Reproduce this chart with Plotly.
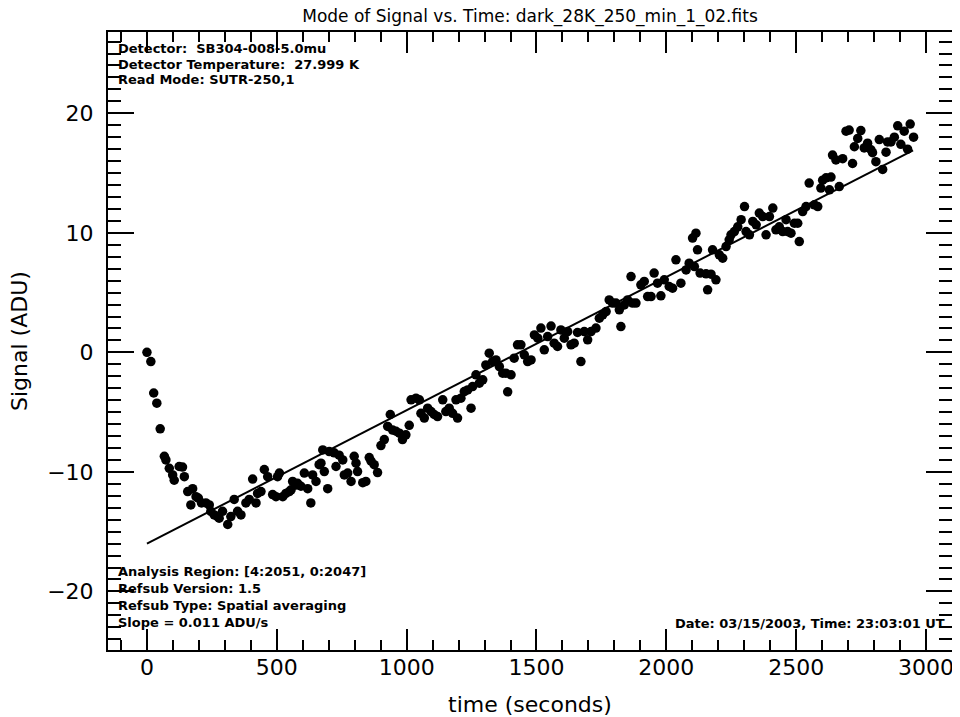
import plotly.graph_objects as go

# ---- data ----
time_s = [0, 15, 26, 38, 51, 67, 73, 86, 99, 105, 124, 137, 144, 157, 169, 176, 189, 198, 210,
          227, 240, 246, 259, 272, 278, 291, 311, 323, 336, 349, 362, 381, 394, 407, 420, 426,
          439, 452, 465, 484, 497, 503, 510, 523, 535, 548, 555, 561, 574, 580, 593, 606, 619,
          631, 638, 651, 663, 670, 677, 683, 696, 702, 721, 728, 740, 754, 760, 773, 786, 798,
          805, 811, 831, 843, 856, 863, 875, 888, 901, 914, 927, 937, 946, 959, 972, 984, 997,
          1010, 1017, 1036, 1049, 1055, 1068, 1081, 1094, 1106, 1119, 1139, 1151, 1164, 1177,
          1190, 1196, 1209, 1222, 1235, 1248, 1254, 1267, 1280, 1293, 1305, 1318, 1331, 1344,
          1357, 1370, 1382, 1389, 1402, 1414, 1427, 1440, 1453, 1466, 1479, 1492, 1505, 1517,
          1530, 1543, 1556, 1568, 1581, 1594, 1607, 1620, 1633, 1645, 1658, 1671, 1684, 1697,
          1710, 1729, 1742, 1755, 1768, 1780, 1793, 1806, 1819, 1825, 1838, 1851, 1864, 1870,
          1883, 1902, 1915, 1928, 1941, 1953, 1966, 1979, 1992, 2011, 2024, 2037, 2056, 2076,
          2088, 2101, 2108, 2114, 2120, 2130, 2153, 2159, 2172, 2178, 2191, 2204, 2217, 2230,
          2242, 2249, 2262, 2275, 2288, 2301, 2307, 2320, 2333, 2346, 2358, 2371, 2384, 2397,
          2410, 2422, 2435, 2448, 2461, 2467, 2480, 2493, 2506, 2512, 2525, 2538, 2550, 2570,
          2583, 2595, 2602, 2615, 2628, 2634, 2640, 2653, 2666, 2679, 2692, 2704, 2717, 2724,
          2737, 2749, 2762, 2775, 2788, 2794, 2807, 2820, 2833, 2846, 2852, 2865, 2878, 2891,
          2903, 2916, 2929, 2939, 2952]
signal_adu = [0.0, -0.77, -3.4, -4.25, -6.4, -8.7, -9.0, -9.7, -10.25, -10.7, -9.55, -9.6, -10.4,
              -11.65, -12.76, -11.4, -12.07, -12.2, -12.6, -12.6, -12.76, -13.3, -13.6, -13.74,
              -13.87, -13.3, -14.4, -13.74, -12.3, -13.3, -13.6, -12.6, -12.3, -10.6, -12.6,
              -11.8, -11.65, -9.8, -10.4, -11.9, -12.07, -10.4, -10.1, -12.07, -11.8, -11.65,
              -11.5, -10.8, -11.1, -10.95, -11.2, -10.1, -11.4, -12.6, -10.25, -10.8, -9.4, -9.27,
              -8.16, -9.97, -11.4, -8.3, -8.4, -9.55, -8.6, -9.0, -10.25, -10.1, -10.8, -8.7,
              -9.27, -9.97, -10.9, -10.8, -8.8, -9.1, -9.4, -10.06, -7.8, -7.3, -6.2, -5.2, -6.5,
              -6.6, -6.76, -7.3, -6.9, -6.1, -3.97, -3.83, -3.97, -5.1, -5.5, -4.67, -4.95, -5.2,
              -5.37, -3.97, -4.95, -4.67, -5.1, -3.97, -5.5, -3.83, -3.28, -3.14, -4.67, -2.86,
              -1.88, -2.58, -2.3, -1.05, -0.07, -0.77, -0.63, -1.19, -1.74, -1.74, -3.3, -1.88,
              -0.49, 0.63, 0.63, -0.21, -0.77, -0.63, 1.46, 1.19, 2.03, 0.21, 1.32, 2.2, 0.77,
              0.49, 1.88, 1.19, 1.74, 0.63, 0.77, 1.66, -0.77, 1.74, 1.05, 1.74, 2.03, 2.86, 3.14,
              3.41, 4.39, 4.12, 4.12, 3.56, 2.16, 3.97, 4.39, 6.34, 4.12, 4.12, 5.65, 5.93, 4.67,
              4.67, 6.63, 5.79, 4.73, 6.07, 5.51, 5.37, 7.74, 5.79, 6.9, 7.46, 9.56, 7.18, 9.97,
              8.58, 6.63, 6.57, 5.23, 6.54, 8.58, 6.07, 8.16, 7.88, 8.85, 9.41, 9.83, 10.1, 10.5,
              11.1, 12.2, 10.1, 9.83, 10.95, 10.67, 11.65, 11.36, 9.83, 11.36, 12.07, 10.25,
              10.5, 10.1, 11.1, 10.1, 9.97, 10.8, 10.8, 9.27, 11.78, 12.2, 14.16, 12.34, 12.2,
              13.74, 14.4, 14.6, 13.6, 14.66, 16.5, 16.1, 13.87, 16.2, 18.5, 18.6, 15.8, 17.2,
              17.9, 18.55, 17.1, 17.5, 16.95, 16.7, 15.95, 17.8, 15.3, 16.75, 17.6, 17.6, 18.0,
              18.95, 17.4, 18.5, 17.0, 19.1, 18.0]

fit_time = [0, 2950]
fit_signal = [-16.0, 16.9]

x_tick_vals = [0, 500, 1000, 1500, 2000, 2500, 3000]
x_tick_text = ["0", "500", "1000", "1500", "2000", "2500", "3000"]
y_tick_vals = [-20, -10, 0, 10, 20]
y_tick_text = ["\u221220", "\u221210", "0", "10", "20"]

title_text = "Mode of Signal vs. Time: dark_28K_250_min_1_02.fits"
x_title = "time (seconds)"
y_title = "Signal (ADU)"
top_notes = ["Detector:  SB304-008-5.0mu",
             "Detector Temperature:  27.999 K",
             "Read Mode: SUTR-250,1"]
bottom_notes = ["Analysis Region: [4:2051, 0:2047]",
                "Refsub Version: 1.5",
                "Refsub Type: Spatial averaging",
                "Slope = 0.011 ADU/s"]
date_note = "Date: 03/15/2003, Time: 23:03:01 UT"

FONT = "DejaVu Sans"

fig = go.Figure()
fig.add_trace(go.Scatter(x=time_s, y=signal_adu, mode="markers",
                         marker=dict(color="black", size=9.5, line=dict(width=0)),
                         showlegend=False, hoverinfo="x+y"))
fig.add_trace(go.Scatter(x=fit_time, y=fit_signal, mode="lines",
                         line=dict(color="black", width=2), showlegend=False))

# The page body adds an 8px offset; figure coordinates = page coordinates - 8.
OFF = 8
W, H = 960 - OFF, 717 - OFF
L, R, T, B = 108 - OFF, 952 - OFF, 32 - OFF, 650 - OFF


def py_to_paper(py):
    return (B - (py - OFF)) / (B - T)


def px_to_paper(px):
    return ((px - OFF) - L) / (R - L)


note_font = dict(family=FONT, size=13, color="black")
annotations = []
for i, txt in enumerate(top_notes):
    annotations.append(dict(text="<b>%s</b>" % txt, x=px_to_paper(116), y=py_to_paper(48 + 16 * i),
                            xref="paper", yref="paper", xanchor="left", yanchor="middle",
                            showarrow=False, font=note_font))
for i, txt in enumerate(bottom_notes):
    annotations.append(dict(text="<b>%s</b>" % txt, x=px_to_paper(116), y=py_to_paper(571 + 17 * i),
                            xref="paper", yref="paper", xanchor="left", yanchor="middle",
                            showarrow=False, font=note_font))
annotations.append(dict(text="<b>%s</b>" % date_note, x=px_to_paper(947), y=py_to_paper(623),
                        xref="paper", yref="paper", xanchor="right", yanchor="middle",
                        showarrow=False, font=note_font))
# y-axis title
annotations.append(dict(text=y_title, textangle=-90, x=px_to_paper(19), y=py_to_paper(341),
                        xref="paper", yref="paper", xanchor="center", yanchor="middle",
                        showarrow=False, font=dict(family=FONT, size=22, color="black")))

fig.update_layout(
    width=W, height=H,
    margin=dict(l=L, r=W - R, t=T, b=H - B, autoexpand=False),
    paper_bgcolor="white", plot_bgcolor="white",
    font=dict(family=FONT, color="black"),
    title=dict(text=title_text, x=0.5 * (L + R) / W, xanchor="center",
               y=1.0 - 2.0 / H, yanchor="top",
               font=dict(family=FONT, size=17, color="black")),
    annotations=annotations,
)
fig.update_xaxes(range=[-150, 3100], showgrid=False, zeroline=False,
                 showline=True, linecolor="black", linewidth=2, mirror="allticks",
                 ticks="inside", ticklen=21, tickwidth=2, tickcolor="black",
                 tickvals=x_tick_vals, ticktext=x_tick_text,
                 tickfont=dict(family=FONT, size=22, color="black"), ticklabelstandoff=-3,
                 minor=dict(ticks="inside", dtick=100, tick0=0, ticklen=10, tickwidth=2,
                            tickcolor="black", showgrid=False),
                 title=dict(text=x_title, font=dict(family=FONT, size=22, color="black"),
                            standoff=17))
fig.update_yaxes(range=[-24.9, 26.8], showgrid=False, zeroline=False,
                 showline=True, linecolor="black", linewidth=2, mirror="allticks",
                 ticks="inside", ticklen=26, tickwidth=2, tickcolor="black",
                 tickvals=y_tick_vals, ticktext=y_tick_text,
                 tickfont=dict(family=FONT, size=22, color="black"), ticklabelstandoff=8,
                 minor=dict(ticks="inside", dtick=1, tick0=0, ticklen=13, tickwidth=2,
                            tickcolor="black", showgrid=False))

fig.write_html("out.html")
